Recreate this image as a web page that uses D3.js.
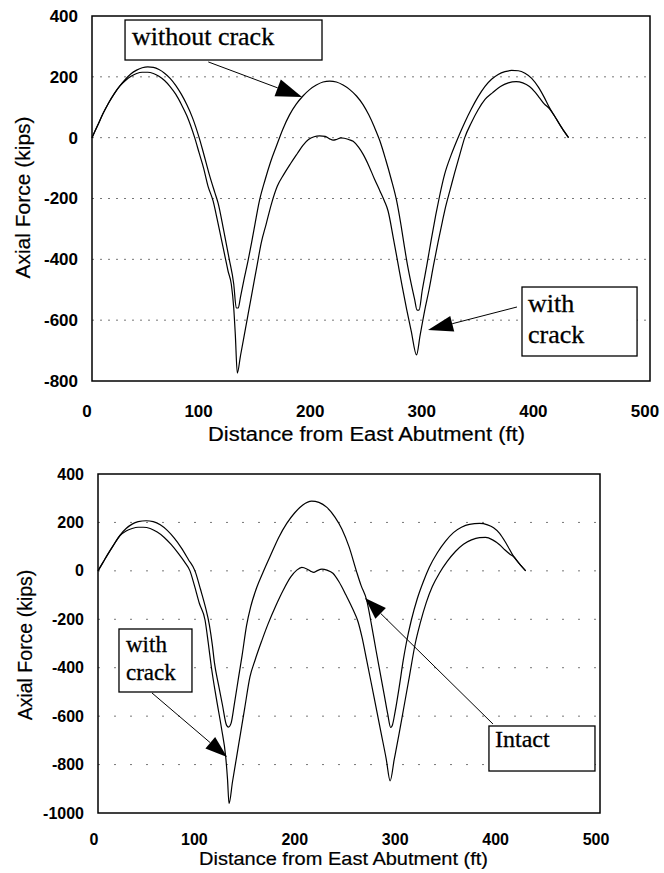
<!DOCTYPE html>
<html>
<head>
<meta charset="utf-8">
<script src="https://cdn.jsdelivr.net/npm/d3@7"></script>
<style>
  body { margin: 0; background: #fff; }
  svg { display: block; }
  .tick-label { font-family: "Liberation Sans", Arial, sans-serif; font-weight: bold; fill: #000; }
  .axis-title { font-family: "Liberation Sans", Arial, sans-serif; fill: #000; stroke: #000; stroke-width: 0.2; }
  .grid { stroke: #777; stroke-width: 1; }
  .curve { fill: none; stroke: #000; stroke-width: 1.2; stroke-linejoin: round; }
  .frame { fill: none; stroke: #000; stroke-width: 1.5; }
  .note-box { fill: #fff; stroke: #000; stroke-width: 1.3; }
  .note-text { font-family: "Liberation Serif", "Times New Roman", serif; fill: #000; stroke: #000; stroke-width: 0.3; }
  .note-line { stroke: #000; stroke-width: 1; }
</style>
</head>
<body>
<svg id="page" width="664" height="873"></svg>
<script>
const xTickValues = [0, 100, 200, 300, 400, 500];
const topYTickValues = [-800, -600, -400, -200, 0, 200, 400];
const bottomYTickValues = [-1000, -800, -600, -400, -200, 0, 200, 400];
const xTitle = 'Distance from East Abutment (ft)';
const yTitle = 'Axial Force (kips)';

// [distance (ft), axial force (kips)]
const topWithoutCrack = [[0,0],[5,40],[10,80],[15,115],[20,145],[25,170],[30,192],[35,210],[40,222],[45,230],[50,233],[55,231],[60,224],[65,212],[70,195],[75,172],[80,143],[85,108],[90,66],[96,0],[100,-52],[105,-120],[110,-180],[113,-215],[118,-305],[123,-400],[127,-481],[129.3,-560],[131,-560],[133,-525],[136,-470],[139.7,-407],[143,-345],[146,-285],[150,-208],[155,-140],[160,-80],[165,-30],[171,28],[177,75],[183,110],[189,137],[195,158],[201,173],[207,183],[213,186],[219,183],[225,173],[231,158],[237,137],[243,108],[248,75],[253,35],[258,-11],[263,-70],[268,-135],[273,-208],[277,-290],[280,-360],[283,-425],[286,-480],[289,-530],[291.3,-567],[293,-567],[296,-500],[300,-420],[304,-335],[308,-255],[311,-200],[316,-120],[322,-55],[328,0],[334,50],[340,95],[346,135],[352,168],[358,192],[364,208],[370,217],[376,221],[382,220],[388,212],[394,195],[400,166],[405,134],[410,98],[415,68],[421,32],[427,0]];

const topWithCrack = [[0,0],[5,40],[10,80],[15,115],[20,145],[25,170],[30,188],[35,202],[40,211],[45,215],[50,215],[55,211],[60,202],[65,188],[70,168],[75,143],[80,110],[85,72],[92,0],[96,-50],[100,-100],[104,-160],[108.5,-208],[112,-265],[116,-335],[119.7,-400],[122,-440],[124.8,-481],[127,-560],[128.4,-646],[130.2,-774],[133,-718],[136,-658],[140,-578],[144,-498],[148,-418],[151.7,-345],[156,-285],[161,-215],[166,-160],[172,-120],[178,-85],[184,-52],[189,-25],[194,-6],[199,3],[204,6],[209,4],[213,-4],[216,-8],[219,-6],[223,-1],[226,-2],[230,-6],[234,-12],[239,-32],[243,-55],[248,-92],[253,-135],[258,-175],[262,-208],[265.3,-241],[270,-330],[274,-410],[278,-490],[282,-565],[286,-635],[290.8,-714],[294,-650],[298,-570],[302,-500],[306,-420],[310,-345],[314,-275],[317,-225],[321,-170],[325,-115],[330,-50],[334,0],[340,50],[346,92],[352,125],[359,148],[366,168],[373,180],[380,184],[386,180],[392,168],[397,150],[401,131],[405,112],[410,95],[415,68],[421,32],[427,0]];

const bottomIntact = [[0,0],[5,35],[10,70],[15,103],[22,148],[28,175],[34,193],[40,203],[48,207],[55,203],[62,190],[69,167],[76,135],[83,95],[90,47],[96.6,0],[102,-75],[107,-150],[111,-225],[114,-310],[116,-380],[120,-470],[124,-555],[128,-637],[130,-645],[132.5,-630],[136,-545],[140,-440],[143.5,-350],[148,-225],[152,-150],[158,-70],[164.6,-4],[172,65],[180,138],[188,196],[196,240],[204,272],[212.8,288],[220,283],[228,262],[236,222],[243,172],[250,100],[257.6,-4],[262,-60],[267.6,-121],[272.5,-225],[277,-330],[281,-420],[285,-510],[288.5,-590],[291.5,-647],[293,-640],[296,-580],[300,-480],[304,-370],[307,-300],[312,-205],[318,-115],[324,-45],[330,15],[338,75],[346,122],[354,158],[362,180],[370,192],[380,196],[388,190],[394,178],[400,155],[407,110],[413.6,62],[420,28],[426,0]];

const bottomWithCrack = [[0,0],[5,35],[10,70],[15,103],[22,146],[28,165],[34,175],[40,180],[45,180],[52,175],[59,160],[66,138],[73,108],[80,72],[86,38],[91.6,0],[96,-60],[101,-135],[106.6,-203],[109.9,-300],[113,-400],[118,-530],[123,-650],[127.2,-768],[129,-860],[130.5,-961],[134,-870],[138,-770],[142,-670],[146,-570],[151.4,-437],[156.4,-369],[163,-290],[169.6,-217],[177,-145],[184.6,-79],[192,-25],[198,3],[203,14],[208,8],[212,-2],[215,-6],[218,0],[223,7],[228,3],[234,-10],[240,-45],[247,-100],[254,-160],[259,-210],[263,-275],[267.6,-369],[272,-460],[277,-565],[282,-670],[287,-775],[291,-867],[295,-780],[300,-670],[305,-555],[310,-440],[316,-300],[321,-215],[327,-130],[333,-65],[340,-10],[348,40],[356,80],[364,110],[372,128],[380,137],[386,138],[393,128],[400,108],[405.4,86],[410,70],[413.6,60],[420,28],[426,0]];

const topNoteTexts = [['without crack'], ['with', 'crack']];
const bottomNoteTexts = [['with', 'crack'], ['Intact']];

class AxialChart {

  constructor(_config, _data) {
    this.config = {
      parentElement: _config.parentElement,
      left: _config.left,
      top: _config.top,
      width: _config.width,
      height: _config.height,
      yDomain: _config.yDomain,
      yTicks: _config.yTicks,
      tickFont: _config.tickFont || 17,
      xLabelDy: _config.xLabelDy,
      labelShift: _config.labelShift || -5,
      xTitleAt: _config.xTitleAt,
      xTitleFont: _config.xTitleFont,
      xTitleLength: _config.xTitleLength,
      yTitleAt: _config.yTitleAt,
      yTitleFont: _config.yTitleFont,
      gridDash: _config.gridDash,
      notes: _config.notes || []
    };
    this.data = _data;
    this.initVis();
  }

  initVis() {
    let vis = this;
    const c = vis.config;

    vis.xScale = d3.scaleLinear().domain([0, 500]).range([0, c.width]);
    vis.yScale = d3.scaleLinear().domain(c.yDomain).range([c.height, 0]);

    vis.svg = d3.select(c.parentElement);
    vis.chart = vis.svg.append('g')
        .attr('transform', `translate(${c.left},${c.top})`);

    // dotted horizontal gridlines (inside the frame only)
    vis.chart.append('g').selectAll('line')
        .data(c.yTicks.slice(1, -1))
      .join('line')
        .attr('class', 'grid')
        .attr('x1', 0).attr('x2', c.width)
        .attr('y1', d => vis.yScale(d)).attr('y2', d => vis.yScale(d))
        .attr('stroke-dasharray', c.gridDash);

    // tick labels
    vis.chart.append('g').selectAll('text')
        .data(c.yTicks)
      .join('text')
        .attr('class', 'tick-label')
        .attr('x', -14)
        .attr('y', d => vis.yScale(d) + c.tickFont * 0.35)
        .attr('text-anchor', 'end')
        .style('font-size', c.tickFont + 'px')
        .text(d => d);

    vis.chart.append('g').selectAll('text')
        .data(xTickValues)
      .join('text')
        .attr('class', 'tick-label')
        .attr('x', d => vis.xScale(d) + c.labelShift)
        .attr('y', c.height + c.xLabelDy)
        .attr('text-anchor', 'middle')
        .style('font-size', c.tickFont + 'px')
        .text(d => d);

    // axis titles
    vis.svg.append('text')
        .attr('class', 'axis-title')
        .attr('x', c.xTitleAt[0])
        .attr('y', c.xTitleAt[1])
        .attr('text-anchor', 'middle')
        .attr('textLength', c.xTitleLength)
        .attr('lengthAdjust', 'spacingAndGlyphs')
        .style('font-size', c.xTitleFont + 'px')
        .text(xTitle);

    vis.svg.append('text')
        .attr('class', 'axis-title')
        .attr('transform', `translate(${c.yTitleAt[0]},${c.yTitleAt[1]}) rotate(-90)`)
        .attr('text-anchor', 'middle')
        .style('font-size', c.yTitleFont + 'px')
        .text(yTitle);

    vis.line = d3.line()
        .curve(d3.curveMonotoneX)
        .x(d => vis.xScale(d[0]))
        .y(d => vis.yScale(d[1]));

    vis.renderVis();
  }

  renderVis() {
    let vis = this;
    const c = vis.config;

    vis.chart.append('g').selectAll('path')
        .data(vis.data)
      .join('path')
        .attr('class', 'curve')
        .attr('d', d => vis.line(d));

    vis.chart.append('rect')
        .attr('class', 'frame')
        .attr('width', c.width)
        .attr('height', c.height);

    // callout boxes with arrows
    c.notes.forEach(n => {
      const g = vis.chart.append('g');
      const x0 = vis.xScale(n.from[0]), y0 = vis.yScale(n.from[1]);
      const x1 = vis.xScale(n.to[0]), y1 = vis.yScale(n.to[1]);
      const len = Math.hypot(x1 - x0, y1 - y0);
      const ux = (x1 - x0) / len, uy = (y1 - y0) / len;
      const bx = x1 - ux * n.head, by = y1 - uy * n.head;
      g.append('line')
          .attr('class', 'note-line')
          .attr('x1', x0).attr('y1', y0)
          .attr('x2', bx).attr('y2', by);
      g.append('path')
          .attr('d', `M${x1},${y1}L${bx - uy * n.half},${by + ux * n.half}L${bx + uy * n.half},${by - ux * n.half}Z`)
          .attr('fill', '#000');

      g.append('rect')
          .attr('class', 'note-box')
          .attr('x', vis.xScale(n.box[0]))
          .attr('y', vis.yScale(n.box[2]))
          .attr('width', vis.xScale(n.box[1]) - vis.xScale(n.box[0]))
          .attr('height', vis.yScale(n.box[3]) - vis.yScale(n.box[2]));

      const t = g.append('text')
          .attr('class', 'note-text')
          .style('font-size', n.font + 'px');
      n.lines.forEach((s, i) => {
        t.append('tspan')
            .attr('x', vis.xScale(n.text[0]))
            .attr('y', vis.yScale(n.text[1]) + i * n.lineGap)
            .text(s);
      });
    });
  }
}

new AxialChart({
  parentElement: '#page',
  left: 92, top: 16, width: 558, height: 365,
  yDomain: [-800, 400],
  yTicks: topYTickValues,
  tickFont: 17,
  xLabelDy: 35.5,
  xTitleAt: [366.5, 441], xTitleFont: 20, xTitleLength: 317,
  yTitleAt: [30, 197.5], yTitleFont: 21,
  gridDash: '2,6',
  notes: [
    { lines: topNoteTexts[0], box: [29.6, 206.1, 386.8, 255.3], text: [35.8, 304.7], lineGap: 31, font: 26,
      from: [104.2, 249], to: [188.2, 133.7], head: 26, half: 9 },
    { lines: topNoteTexts[1], box: [385.3, 488.4, -491, -717.8], text: [390.7, -573.1], lineGap: 31, font: 26,
      from: [380.8, -556.7], to: [301.1, -632.3], head: 25, half: 8 }
  ]
}, [topWithoutCrack, topWithCrack]);

new AxialChart({
  parentElement: '#page',
  left: 98, top: 474, width: 502, height: 339,
  yDomain: [-1000, 400],
  yTicks: bottomYTickValues,
  tickFont: 16,
  xLabelDy: 31.5,
  labelShift: -4,
  xTitleAt: [343.5, 865], xTitleFont: 19, xTitleLength: 289,
  yTitleAt: [31.5, 645], yTitleFont: 19.5,
  gridDash: '2,14',
  notes: [
    { lines: bottomNoteTexts[0], box: [20.9, 93.6, -240.1, -500.3], text: [27.9, -335.1], lineGap: 28, font: 23,
      from: [53.8, -504.4], to: [128.5, -768.7], head: 22, half: 7.5 },
    { lines: bottomNoteTexts[1], box: [389.4, 495, -640.7, -826.6], text: [395.4, -727.5], lineGap: 28, font: 24,
      from: [393.4, -632.5], to: [265.9, -112.1], head: 22, half: 7.5 }
  ]
}, [bottomIntact, bottomWithCrack]);
</script>
</body>
</html>
